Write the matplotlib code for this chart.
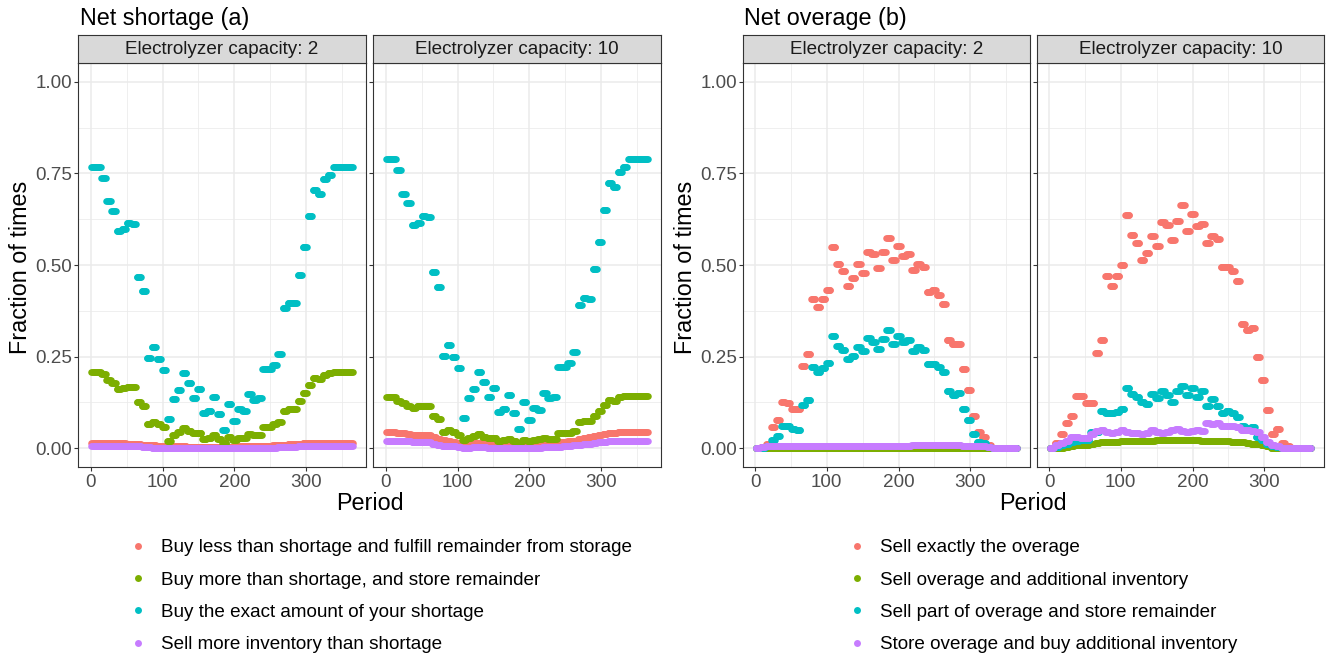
import numpy as np
import matplotlib
matplotlib.use("Agg")
import matplotlib.pyplot as plt
from matplotlib.lines import Line2D

plt.rcParams["font.family"] = ["Liberation Sans", "DejaVu Sans"]

# Weekly shares (weeks 0..52); every period in a week carries the week's value
periods = np.arange(1, 366)

# Net shortage, electrolyzer capacity 2
short2_buy_less = [0.015, 0.015, 0.015, 0.014, 0.014, 0.014, 0.014, 0.013, 0.013, 0.012,
                   0.010, 0.009, 0.008, 0.007, 0.006, 0.005, 0.005, 0.005, 0.005, 0.004,
                   0.004, 0.004, 0.004, 0.004, 0.004, 0.004, 0.004, 0.004, 0.004, 0.005,
                   0.005, 0.005, 0.005, 0.006, 0.006, 0.007, 0.008, 0.009, 0.010, 0.011,
                   0.012, 0.013, 0.014, 0.014, 0.015, 0.015, 0.015, 0.015, 0.015, 0.015,
                   0.015, 0.015, 0.015]
short2_buy_more = [0.209, 0.209, 0.203, 0.185, 0.177, 0.162, 0.164, 0.168, 0.168, 0.127,
                   0.116, 0.066, 0.073, 0.066, 0.057, 0.021, 0.036, 0.045, 0.055, 0.048,
                   0.041, 0.043, 0.025, 0.027, 0.036, 0.025, 0.015, 0.032, 0.023, 0.029,
                   0.029, 0.039, 0.036, 0.036, 0.059, 0.059, 0.065, 0.073, 0.103, 0.107,
                   0.107, 0.130, 0.150, 0.173, 0.191, 0.188, 0.200, 0.205, 0.209, 0.209,
                   0.209, 0.209, 0.209]
short2_exact = [0.768, 0.768, 0.736, 0.675, 0.648, 0.594, 0.598, 0.615, 0.612, 0.468,
                0.430, 0.245, 0.275, 0.243, 0.214, 0.079, 0.134, 0.159, 0.205, 0.177,
                0.136, 0.162, 0.095, 0.103, 0.139, 0.094, 0.050, 0.121, 0.075, 0.106,
                0.103, 0.147, 0.132, 0.136, 0.215, 0.215, 0.227, 0.257, 0.382, 0.395,
                0.395, 0.473, 0.548, 0.635, 0.705, 0.693, 0.734, 0.745, 0.768, 0.768,
                0.768, 0.768, 0.768]
short2_sell = [0.006, 0.006, 0.006, 0.006, 0.006, 0.006, 0.006, 0.006, 0.006, 0.005,
               0.004, 0.003, 0.002, 0.002, 0.001, 0.001, 0.001, 0.001, 0.001, 0.001,
               0.001, 0.001, 0.001, 0.001, 0.001, 0.001, 0.001, 0.001, 0.001, 0.001,
               0.001, 0.001, 0.001, 0.001, 0.001, 0.002, 0.002, 0.003, 0.003, 0.004,
               0.004, 0.005, 0.005, 0.006, 0.006, 0.006, 0.006, 0.006, 0.006, 0.006,
               0.006, 0.006, 0.006]

# Net shortage, electrolyzer capacity 10
short10_buy_less = [0.044, 0.044, 0.043, 0.041, 0.039, 0.037, 0.036, 0.036, 0.035, 0.032,
                    0.026, 0.022, 0.019, 0.017, 0.015, 0.014, 0.014, 0.015, 0.015, 0.014,
                    0.013, 0.013, 0.012, 0.012, 0.012, 0.012, 0.011, 0.012, 0.012, 0.012,
                    0.013, 0.013, 0.014, 0.015, 0.016, 0.018, 0.019, 0.020, 0.024, 0.027,
                    0.030, 0.034, 0.037, 0.039, 0.041, 0.042, 0.044, 0.044, 0.044, 0.044,
                    0.044, 0.044, 0.044]
short10_buy_more = [0.141, 0.141, 0.130, 0.123, 0.114, 0.109, 0.114, 0.114, 0.114, 0.088,
                    0.079, 0.045, 0.050, 0.045, 0.036, 0.023, 0.027, 0.034, 0.039, 0.032,
                    0.027, 0.029, 0.021, 0.023, 0.025, 0.021, 0.015, 0.023, 0.021, 0.023,
                    0.025, 0.027, 0.025, 0.025, 0.041, 0.041, 0.043, 0.048, 0.071, 0.075,
                    0.075, 0.089, 0.103, 0.118, 0.132, 0.130, 0.139, 0.143, 0.143, 0.143,
                    0.143, 0.143, 0.143]
short10_exact = [0.789, 0.789, 0.759, 0.695, 0.668, 0.609, 0.614, 0.634, 0.630, 0.480,
                 0.441, 0.253, 0.281, 0.250, 0.218, 0.082, 0.138, 0.162, 0.209, 0.182,
                 0.139, 0.165, 0.100, 0.106, 0.145, 0.097, 0.052, 0.125, 0.077, 0.109,
                 0.105, 0.150, 0.136, 0.141, 0.223, 0.221, 0.234, 0.264, 0.391, 0.409,
                 0.406, 0.488, 0.564, 0.650, 0.725, 0.712, 0.755, 0.766, 0.789, 0.789,
                 0.789, 0.789, 0.789]
short10_sell = [0.021, 0.021, 0.020, 0.020, 0.019, 0.018, 0.018, 0.017, 0.016, 0.013,
                0.010, 0.007, 0.006, 0.005, 0.004, 0.002, 0.002, 0.003, 0.003, 0.003,
                0.002, 0.002, 0.002, 0.002, 0.002, 0.002, 0.001, 0.001, 0.002, 0.002,
                0.002, 0.003, 0.003, 0.003, 0.004, 0.005, 0.006, 0.008, 0.009, 0.011,
                0.013, 0.015, 0.016, 0.018, 0.019, 0.020, 0.020, 0.021, 0.021, 0.021,
                0.021, 0.021, 0.021]

# Net overage, electrolyzer capacity 2
over2_exact = [0.000, 0.003, 0.012, 0.059, 0.077, 0.125, 0.123, 0.106, 0.106, 0.225,
               0.257, 0.407, 0.385, 0.407, 0.432, 0.550, 0.503, 0.484, 0.443, 0.464,
               0.502, 0.479, 0.535, 0.529, 0.493, 0.536, 0.575, 0.514, 0.553, 0.525,
               0.529, 0.486, 0.503, 0.494, 0.425, 0.432, 0.418, 0.394, 0.295, 0.285,
               0.284, 0.216, 0.159, 0.088, 0.045, 0.030, 0.008, 0.002, 0.000, 0.000,
               0.000, 0.000, 0.000]
over2_sell_more = [0.000, 0.000, 0.001, 0.001, 0.001, 0.001, 0.002, 0.002, 0.002, 0.002,
                   0.002, 0.002, 0.002, 0.002, 0.002, 0.002, 0.002, 0.002, 0.002, 0.002,
                   0.002, 0.002, 0.002, 0.002, 0.002, 0.002, 0.002, 0.002, 0.002, 0.002,
                   0.002, 0.002, 0.002, 0.002, 0.002, 0.002, 0.002, 0.001, 0.001, 0.001,
                   0.001, 0.001, 0.001, 0.001, 0.001, 0.000, 0.000, 0.000, 0.000, 0.000,
                   0.000, 0.000, 0.000]
over2_store = [0.000, 0.000, 0.005, 0.023, 0.033, 0.060, 0.060, 0.052, 0.050, 0.118,
               0.132, 0.221, 0.207, 0.218, 0.234, 0.306, 0.279, 0.268, 0.244, 0.253,
               0.277, 0.265, 0.300, 0.291, 0.270, 0.298, 0.323, 0.284, 0.307, 0.291,
               0.295, 0.265, 0.277, 0.268, 0.229, 0.229, 0.221, 0.209, 0.155, 0.145,
               0.152, 0.107, 0.077, 0.038, 0.018, 0.015, 0.003, 0.000, 0.000, 0.000,
               0.000, 0.000, 0.000]
over2_buy = [0.000, 0.003, 0.005, 0.006, 0.006, 0.006, 0.006, 0.007, 0.007, 0.007,
             0.007, 0.007, 0.007, 0.007, 0.007, 0.007, 0.007, 0.007, 0.007, 0.007,
             0.006, 0.006, 0.006, 0.006, 0.007, 0.007, 0.006, 0.006, 0.007, 0.007,
             0.007, 0.008, 0.008, 0.009, 0.010, 0.009, 0.009, 0.008, 0.008, 0.008,
             0.008, 0.007, 0.007, 0.007, 0.006, 0.005, 0.003, 0.001, 0.000, 0.000,
             0.000, 0.000, 0.000]

# Net overage, electrolyzer capacity 10
over10_exact = [0.000, 0.014, 0.040, 0.068, 0.088, 0.143, 0.143, 0.123, 0.123, 0.261,
                0.295, 0.470, 0.443, 0.470, 0.500, 0.636, 0.582, 0.559, 0.514, 0.534,
                0.579, 0.553, 0.618, 0.609, 0.568, 0.620, 0.664, 0.594, 0.639, 0.607,
                0.612, 0.561, 0.580, 0.570, 0.494, 0.495, 0.484, 0.455, 0.339, 0.323,
                0.327, 0.250, 0.185, 0.105, 0.040, 0.052, 0.014, 0.005, 0.000, 0.000,
                0.000, 0.000, 0.000]
over10_sell_more = [0.000, 0.000, 0.002, 0.004, 0.006, 0.008, 0.009, 0.009, 0.012, 0.014,
                    0.016, 0.018, 0.018, 0.018, 0.019, 0.021, 0.021, 0.021, 0.020, 0.021,
                    0.021, 0.022, 0.022, 0.022, 0.022, 0.023, 0.023, 0.023, 0.022, 0.022,
                    0.021, 0.021, 0.020, 0.020, 0.019, 0.019, 0.018, 0.017, 0.016, 0.015,
                    0.013, 0.011, 0.008, 0.005, 0.002, 0.001, 0.000, 0.000, 0.000, 0.000,
                    0.000, 0.000, 0.000]
over10_store = [0.000, 0.003, 0.008, 0.012, 0.018, 0.020, 0.022, 0.022, 0.045, 0.045,
                0.102, 0.095, 0.095, 0.100, 0.107, 0.164, 0.147, 0.141, 0.125, 0.121,
                0.147, 0.138, 0.157, 0.145, 0.127, 0.157, 0.171, 0.145, 0.164, 0.141,
                0.155, 0.116, 0.134, 0.116, 0.095, 0.102, 0.097, 0.084, 0.060, 0.055,
                0.059, 0.030, 0.023, 0.012, 0.006, 0.003, 0.000, 0.000, 0.000, 0.000,
                0.000, 0.000, 0.000]
over10_buy = [0.000, 0.008, 0.015, 0.020, 0.030, 0.030, 0.028, 0.028, 0.040, 0.048,
              0.050, 0.045, 0.043, 0.045, 0.050, 0.045, 0.043, 0.042, 0.040, 0.043,
              0.050, 0.045, 0.043, 0.045, 0.050, 0.052, 0.046, 0.045, 0.047, 0.050,
              0.046, 0.068, 0.065, 0.070, 0.062, 0.060, 0.062, 0.058, 0.050, 0.050,
              0.048, 0.045, 0.030, 0.018, 0.010, 0.005, 0.002, 0.000, 0.000, 0.000,
              0.000, 0.000, 0.000]

colors = ["#F8766D", "#7CAE00", "#00BFC4", "#C77CFF"]
shortage_labels = ["Buy less than shortage and fulfill remainder from storage",
                   "Buy more than shortage, and store remainder",
                   "Buy the exact amount of your shortage",
                   "Sell more inventory than shortage"]
overage_labels = ["Sell exactly the overage",
                  "Sell overage and additional inventory",
                  "Sell part of overage and store remainder",
                  "Store overage and buy additional inventory"]
facet_titles = ["Electrolyzer capacity: 2", "Electrolyzer capacity: 10"]

W, H = 1327, 657
fig = plt.figure(figsize=(W / 100, H / 100), dpi=100)

SMALL = 13.6
BIG = 16.8


def px_box(left, top, right, bottom):
    return [left / W, 1 - bottom / H, (right - left) / W, (bottom - top) / H]


def daily(weekly):
    return np.asarray(weekly)[(periods - 1) // 7]


def draw_panel(left, right, series, strip_text, show_y):
    ax = fig.add_axes(px_box(left, 63.4, right, 466.6))
    for vals, c in zip(series, colors):
        ax.scatter(periods, daily(vals), s=22, color=c, linewidths=0, zorder=3)
    ax.set_xlim(1 - 18.2, 365 + 18.2)
    ax.set_ylim(-0.05, 1.05)
    ax.set_xticks([0, 100, 200, 300])
    ax.set_xticks([50, 150, 250, 350], minor=True)
    ax.set_yticks([0, 0.25, 0.5, 0.75, 1.0])
    ax.set_yticks([0.125, 0.375, 0.625, 0.875], minor=True)
    ax.grid(which="major", color="#EBEBEB", linewidth=1.1)
    ax.grid(which="minor", color="#EBEBEB", linewidth=0.55)
    ax.set_axisbelow(True)
    ax.tick_params(which="minor", length=0)
    ax.tick_params(which="major", length=2.7, width=0.8, color="#333333",
                   labelcolor="#4D4D4D", labelsize=SMALL)
    ax.tick_params(axis="x", pad=2.5)
    ax.tick_params(axis="y", pad=1.5)
    if show_y:
        ax.set_yticklabels(["0.00", "0.25", "0.50", "0.75", "1.00"])
    else:
        ax.tick_params(axis="y", labelleft=False)
    for s in ax.spines.values():
        s.set_color("#333333")
        s.set_linewidth(0.8)

    strip = fig.add_axes(px_box(left, 35, right, 63.4))
    strip.set_facecolor("#D9D9D9")
    strip.set_xticks([])
    strip.set_yticks([])
    for s in strip.spines.values():
        s.set_color("#333333")
        s.set_linewidth(0.8)
    strip.text(0.5, 0.48, strip_text, transform=strip.transAxes, ha="center",
               va="center", fontsize=SMALL, color="#1A1A1A")
    return ax


groups = [
    ("Net shortage (a)", [(78.3, 366.0), (373.3, 661.0)],
     [[short2_buy_less, short2_buy_more, short2_exact, short2_sell],
      [short10_buy_less, short10_buy_more, short10_exact, short10_sell]],
     shortage_labels, 21, 128.8),
    ("Net overage (b)", [(742.7, 1030.0), (1036.7, 1324.0)],
     [[over2_exact, over2_sell_more, over2_store, over2_buy],
      [over10_exact, over10_sell_more, over10_store, over10_buy]],
     overage_labels, 685, 847.8),
]

for title, spans, panels, labels, ylab_x, leg_x in groups:
    for i, ((l, r), series) in enumerate(zip(spans, panels)):
        draw_panel(l, r, series, facet_titles[i], show_y=(i == 0))
    left, right = spans[0][0], spans[1][1]
    fig.text((left + 1.5) / W, 1 - 25.5 / H, title, fontsize=BIG, va="baseline")
    fig.text((left + right) / 2 / W, 1 - 503 / H, "Period", fontsize=BIG,
             ha="center", va="center")
    fig.text(ylab_x / W, 1 - 267 / H, "Fraction of times", fontsize=BIG,
             rotation=90, ha="center", va="center")
    handles = [Line2D([], [], marker="o", linestyle="", color=c, markersize=5,
                      markeredgewidth=0) for c in colors]
    fig.legend(handles, labels, loc="upper left",
               bbox_to_anchor=(leg_x / W, 1 - 539 / H), frameon=False,
               fontsize=SMALL, labelspacing=0.8, handlelength=1.0,
               handletextpad=0.72, borderpad=0, borderaxespad=0)

fig.savefig("out.png", dpi=100)
